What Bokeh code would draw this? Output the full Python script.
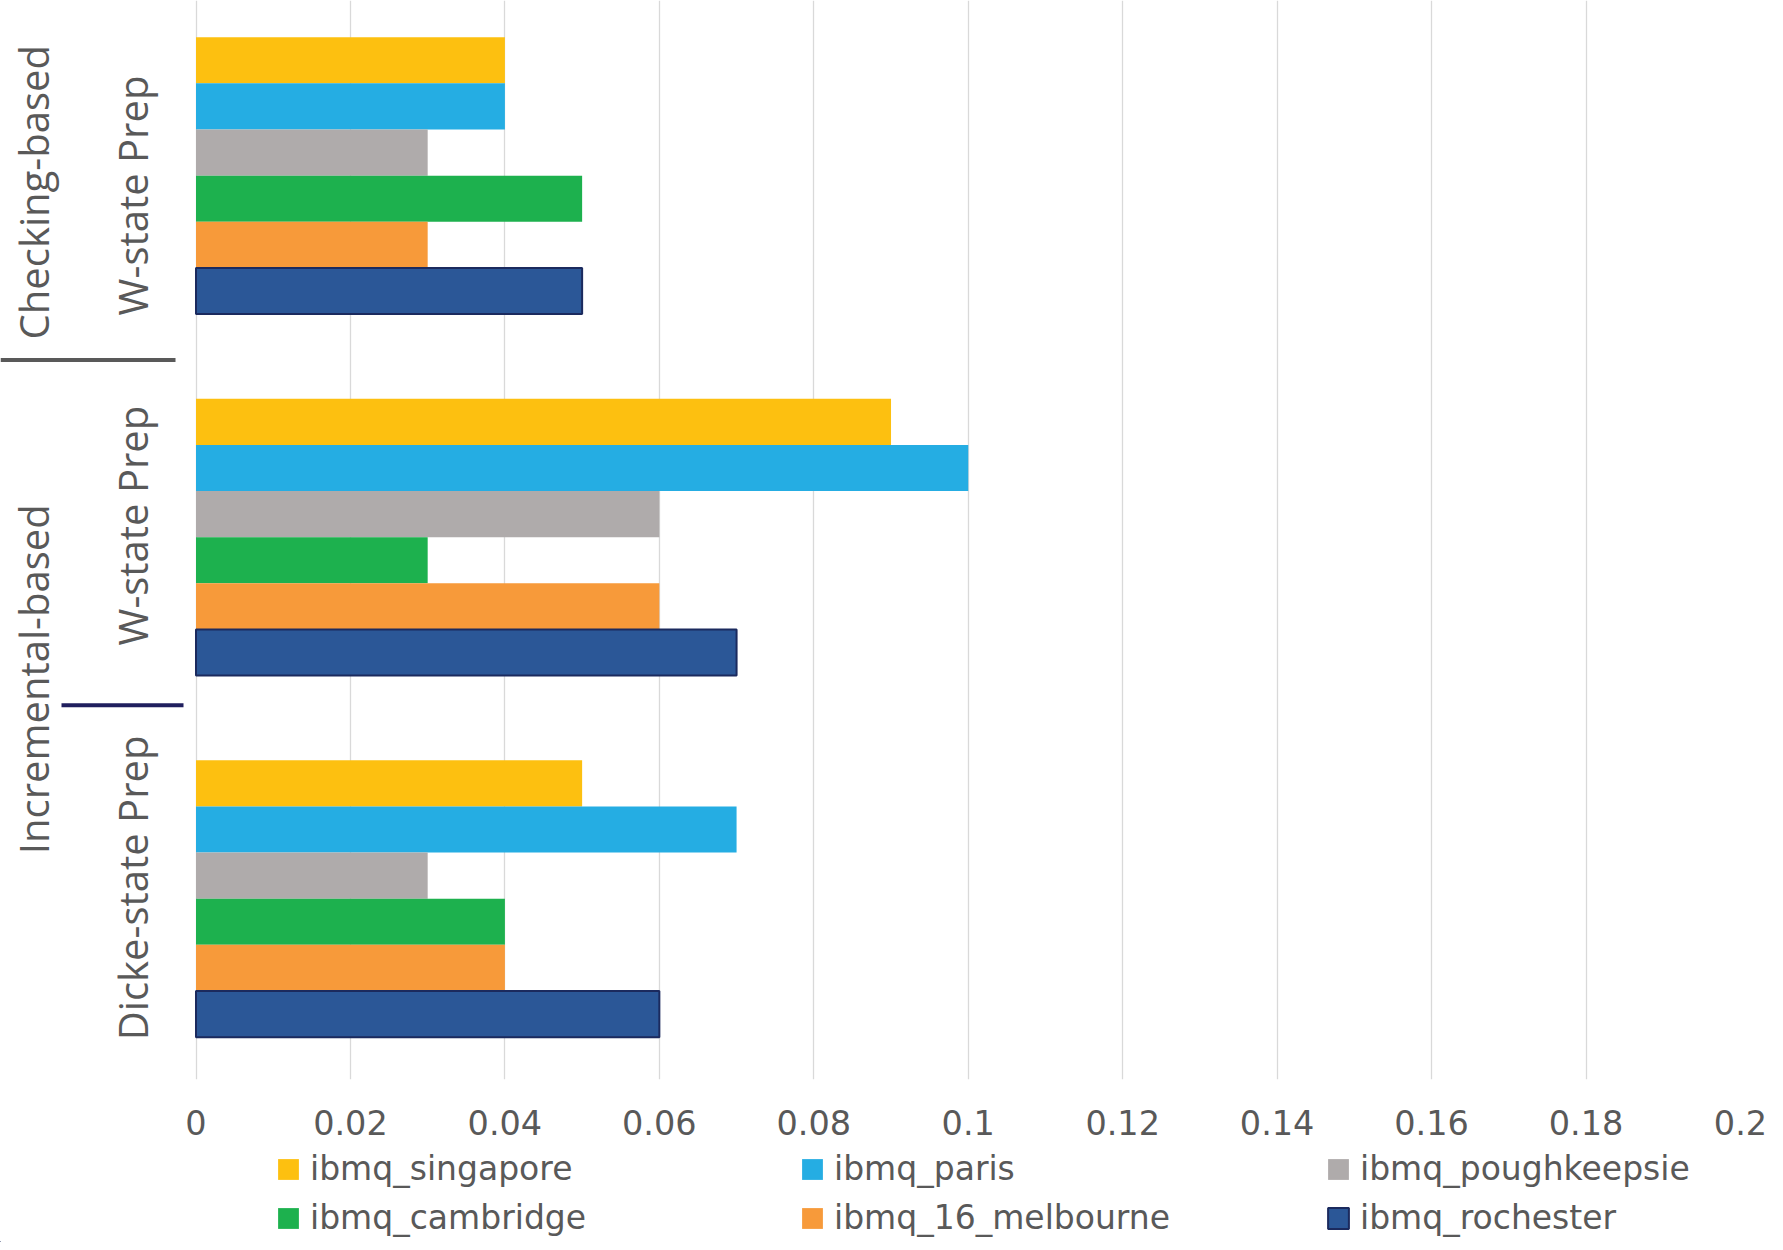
import math
from bokeh.plotting import figure
from bokeh.layouts import column
from bokeh.models import Range1d, FixedTicker, Legend, LegendItem, ColumnDataSource
from bokeh.core.properties import value
from bokeh.transform import dodge
from bokeh.embed import file_html
from bokeh.resources import INLINE

# ---------------- data ----------------
categories = ["Checking-based / W-state Prep",
              "Incremental-based / W-state Prep",
              "Incremental-based / Dicke-state Prep"]
sub_labels = ["W-state Prep", "W-state Prep", "Dicke-state Prep"]
group_labels = ["Checking-based", "Incremental-based"]

series_names = ["ibmq_singapore", "ibmq_paris", "ibmq_poughkeepsie",
                "ibmq_cambridge", "ibmq_16_melbourne", "ibmq_rochester"]
singapore = [0.04, 0.09, 0.05]
paris = [0.04, 0.10, 0.07]
poughkeepsie = [0.03, 0.06, 0.03]
cambridge = [0.05, 0.03, 0.04]
melbourne = [0.03, 0.06, 0.04]
rochester = [0.05, 0.07, 0.06]

x_ticks = [0, 0.02, 0.04, 0.06, 0.08, 0.1, 0.12, 0.14, 0.16, 0.18, 0.2]
x_tick_labels = ["0", "0.02", "0.04", "0.06", "0.08", "0.1", "0.12", "0.14", "0.16", "0.18", "0.2"]

# ---------------- style / layout ----------------
colors = ["#FDC010", "#25ADE3", "#AFABAB", "#1DB14E", "#F79A3A", "#2B5797"]
LABEL_FONT = "Open Sans"
TICK_FONT = "DejaVu Sans"
TXT = "#595959"
BAR_H = 0.1276

W = 1767
ZERO_PX = 195.5          # pixel position of x = 0 inside the frame
FRAME_R = 1740           # pixel position of x = 0.2
XMAX = 0.2
PPU = (FRAME_R - ZERO_PX) / XMAX


def px2x(px):
    return (px - ZERO_PX) / PPU


series_values = [singapore, paris, poughkeepsie, cambridge, melbourne, rochester]
cat_pos = [i + 0.5 for i in range(len(categories))]
sub_label_pos = [0.555, 1.468, 2.47]   # placement of category labels
group_pos = [0.546, 1.893]             # placement of group labels
group_sep = 1.01                       # separator between the two groups
sub_sep = 1.965                        # separator inside "Incremental-based"

FRAME_H = 1079
BOTTOM = 69
MAIN_H = FRAME_H + BOTTOM
p = figure(width=W, height=MAIN_H,
           x_range=Range1d(px2x(0), XMAX), y_range=Range1d(3.0, 0.0156),
           output_backend="svg", toolbar_location=None, y_axis_location=None,
           min_border_left=0, min_border_right=W - FRAME_R,
           min_border_top=0, min_border_bottom=BOTTOM)
p.outline_line_color = None
p.background_fill_color = "white"
p.ygrid.visible = False
p.xgrid.ticker = FixedTicker(ticks=x_ticks)
p.xgrid.grid_line_color = "#D9D9D9"
p.xgrid.grid_line_width = 1.3

# x axis
xa = p.xaxis[0]
xa.ticker = FixedTicker(ticks=x_ticks)
xa.major_label_overrides = {t: l for t, l in zip(x_ticks, x_tick_labels)}
xa.axis_line_color = None
xa.major_tick_line_color = None
xa.minor_tick_line_color = None
xa.major_tick_out = 0
xa.major_tick_in = 0
xa.major_label_text_font = TICK_FONT
xa.major_label_text_font_size = "33.5px"
xa.major_label_text_color = TXT
xa.major_label_standoff = 30

# category labels (multi-level, rotated)
p.text(x=[px2x(ZERO_PX - 64)] * len(sub_labels), y=sub_label_pos, text=sub_labels,
       angle=math.pi / 2, text_align="center", text_baseline="alphabetic",
       text_font=value(LABEL_FONT), text_font_size="40px", text_color=TXT)
p.text(x=[px2x(ZERO_PX - 163)] * len(group_labels), y=group_pos, text=group_labels,
       angle=math.pi / 2, text_align="center", text_baseline="alphabetic",
       text_font=value(LABEL_FONT), text_font_size="40px", text_color=TXT)
p.segment(x0=[px2x(0)], y0=[group_sep], x1=[px2x(ZERO_PX - 20.5)], y1=[group_sep],
          line_color="#595959", line_width=4)
p.segment(x0=[px2x(ZERO_PX - 134.5)], y0=[sub_sep], x1=[px2x(ZERO_PX - 12.5)], y1=[sub_sep],
          line_color="#201F5E", line_width=4)

# bars
n = len(series_names)
sources = []
for j, (name, vals, col) in enumerate(zip(series_names, series_values, colors)):
    src = ColumnDataSource(dict(y=cat_pos, x=vals))
    sources.append(src)
    off = (j - (n - 1) / 2) * BAR_H
    p.hbar(y=dodge("y", off, range=p.y_range), left=0, right="x", height=BAR_H,
           source=src, fill_color=col,
           line_color="#1B2A5E" if name == "ibmq_rochester" else None,
           line_width=2)

# legend (separate strip below the chart, three columns)
LEG_H = 1242 - MAIN_H
lf = figure(width=W, height=LEG_H, x_range=Range1d(1, 2), y_range=Range1d(10, 11),
            output_backend="svg", toolbar_location=None,
            x_axis_location=None, y_axis_location=None,
            min_border_left=0, min_border_right=0, min_border_top=0, min_border_bottom=0)
lf.outline_line_color = None
lf.grid.visible = False
items = []
for name, col, src in zip(series_names, colors, sources):
    r = lf.hbar(y="y", left=0, right="x", height=BAR_H, source=src, fill_color=col,
                line_color="#1B2A5E" if name == "ibmq_rochester" else None,
                line_width=2)
    items.append(LegendItem(label=name, renderers=[r]))

col_x = [275, 799, 1325]
for c in range(3):
    lg = Legend(items=[items[c], items[c + 3]], orientation="vertical",
                location=(col_x[c], 5), padding=0, margin=0,
                border_line_color=None, background_fill_alpha=0,
                glyph_width=26, glyph_height=26, label_standoff=9,
                spacing=10,
                label_text_font=TICK_FONT, label_text_font_size="33px",
                label_text_color=TXT)
    lf.add_layout(lg, "center")

layout = column(p, lf, spacing=0)
open("out.html", "w").write(file_html(layout, INLINE))
